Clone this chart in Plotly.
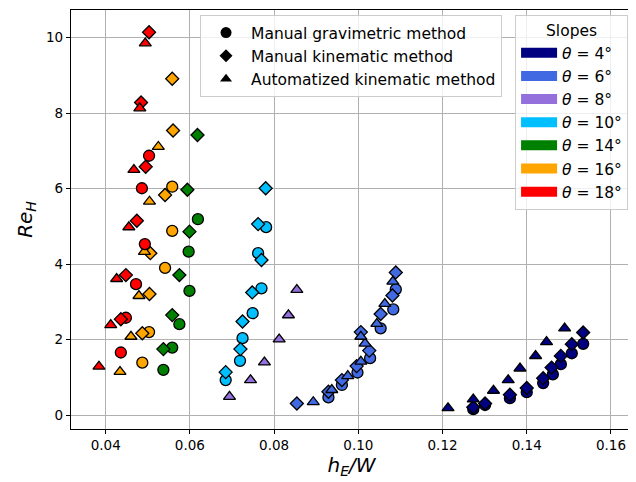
import plotly.graph_objects as go

# ---- data (h_E/W, Re_H) per slope and method ----
slopes = ["4", "6", "8", "10", "14", "16", "18"]
colors = ["#000080", "#4169E1", "#9370DB", "#00BFFF", "#008000", "#FFA500", "#FF0000"]

# Manual gravimetric method (circles)
grav_x = {
    "4": [0.1273, 0.1301, 0.1360, 0.1400, 0.1439, 0.1462, 0.1481, 0.1507, 0.1534],
    "6": [0.0929, 0.0961, 0.0998, 0.1028, 0.1053, 0.1083, 0.1089],
    "8": [],
    "10": [0.0685, 0.0719, 0.0725, 0.0749, 0.0770, 0.0762, 0.0781],
    "14": [0.0537, 0.0558, 0.0575, 0.0599, 0.0597, 0.0619],
    "16": [0.0487, 0.0503, 0.0541, 0.0558, 0.0558],
    "18": [0.0436, 0.0448, 0.0472, 0.0493, 0.0486, 0.0503],
}
grav_y = {
    "4": [0.16, 0.27, 0.45, 0.61, 0.85, 1.08, 1.35, 1.64, 1.89],
    "6": [0.47, 0.80, 1.13, 1.51, 2.30, 2.80, 3.33],
    "8": [],
    "10": [0.93, 1.44, 2.04, 2.70, 3.36, 4.29, 4.98],
    "14": [1.20, 1.79, 2.41, 3.29, 4.33, 5.19],
    "16": [1.39, 2.20, 3.90, 4.88, 6.05],
    "18": [1.66, 2.58, 3.47, 4.53, 6.01, 6.87],
}

# Manual kinematic method (diamonds)
kin_x = {
    "4": [0.1273, 0.1301, 0.1360, 0.1400, 0.1439, 0.1459, 0.1481, 0.1507, 0.1534],
    "6": [0.0854, 0.0929, 0.0961, 0.0996, 0.1026, 0.1006, 0.1053, 0.1081, 0.1089],
    "8": [],
    "10": [0.0685, 0.0720, 0.0725, 0.0748, 0.0770, 0.0762, 0.0780],
    "14": [0.0537, 0.0558, 0.0575, 0.0599, 0.0594, 0.0618],
    "16": [0.0487, 0.0504, 0.0506, 0.0541, 0.0560, 0.0558],
    "18": [0.0436, 0.0448, 0.0474, 0.0495, 0.0484, 0.0503],
}
kin_y = {
    "4": [0.21, 0.31, 0.54, 0.72, 0.98, 1.26, 1.57, 1.88, 2.19],
    "6": [0.31, 0.62, 0.93, 1.30, 1.71, 2.20, 2.68, 3.17, 3.78],
    "8": [],
    "10": [1.14, 1.75, 2.48, 3.25, 4.11, 5.06, 6.01],
    "14": [1.75, 2.65, 3.71, 4.86, 5.97, 7.42],
    "16": [2.17, 3.21, 4.29, 5.83, 7.54, 8.91],
    "18": [2.54, 3.71, 5.15, 6.58, 8.28, 10.14],
}

# Automatized kinematic method (triangles)
auto_x = {
    "4": [0.1213, 0.1273, 0.1321, 0.1356, 0.1384, 0.1421, 0.1447, 0.1490],
    "6": [0.0893, 0.0937, 0.0975, 0.1006, 0.1016, 0.1006, 0.1044, 0.1063, 0.1082],
    "8": [0.0694, 0.0744, 0.0777, 0.0812, 0.0834, 0.0854],
    "10": [],
    "14": [],
    "16": [0.0434, 0.0460, 0.0479, 0.0492, 0.0504, 0.0525],
    "18": [0.0384, 0.0412, 0.0426, 0.0455, 0.0467, 0.0481, 0.0494],
}
auto_y = {
    "4": [0.19, 0.42, 0.65, 0.93, 1.24, 1.57, 1.94, 2.30],
    "6": [0.35, 0.67, 1.04, 1.42, 1.90, 2.08, 2.42, 2.95, 3.54],
    "8": [0.49, 0.93, 1.40, 2.01, 2.65, 3.32],
    "10": [],
    "14": [],
    "16": [1.15, 2.08, 3.16, 4.33, 5.66, 7.11],
    "18": [1.29, 2.39, 3.61, 4.98, 6.50, 8.13, 9.85],
}

x_ticks = [0.04, 0.06, 0.08, 0.10, 0.12, 0.14, 0.16]
x_ticklabels = ["0.04", "0.06", "0.08", "0.10", "0.12", "0.14", "0.16"]
y_ticks = [0, 2, 4, 6, 8, 10]

method_names = ["Manual gravimetric method", "Manual kinematic method", "Automatized kinematic method"]
method_symbols = ["circle", "diamond", "triangle-up"]
method_sizes = [11, 10, 10.5]
method_data = [(grav_x, grav_y), (kin_x, kin_y), (auto_x, auto_y)]

FONT = "DejaVu Sans"
fig = go.Figure()

for s, c in zip(slopes, colors):
    for (mx, my), sym, sz in zip(method_data, method_symbols, method_sizes):
        if mx[s]:
            fig.add_trace(go.Scatter(
                x=mx[s], y=my[s], mode="markers", showlegend=False,
                marker=dict(symbol=sym, size=sz, color=c,
                            line=dict(color="black", width=1.3)),
            ))

# legend proxies: methods
for i, (name, sym, sz) in enumerate(zip(method_names, method_symbols, method_sizes)):
    fig.add_trace(go.Scatter(
        x=[None], y=[None], mode="markers", name=name, legend="legend",
        legendgroup="m%d" % i,
        marker=dict(symbol=sym, size=sz, color="black"),
    ))

# legend proxies: slopes
for i, (s, c) in enumerate(zip(slopes, colors)):
    fig.add_trace(go.Scatter(
        x=[None], y=[None], mode="lines", name="<i>θ</i> = %s°" % s, legend="legend2",
        legendgroup="s%d" % i,
        line=dict(color=c, width=13),
    ))

axis_common = dict(
    showline=True, linecolor="black", linewidth=1.2, mirror=True,
    ticks="outside", ticklen=4, tickcolor="black",
    showgrid=True, gridcolor="#b0b0b0", gridwidth=1,
    zeroline=False, tickfont=dict(family=FONT, size=13.5, color="black"),
)

# page body has an 8px margin; figure sized so the plot lands where the reference has it
fig.update_layout(
    width=628, height=474,
    margin=dict(l=63, r=4, t=2, b=53),
    paper_bgcolor="white", plot_bgcolor="white",
    font=dict(family=FONT, color="black"),
    xaxis=dict(range=[0.03176, 0.1650], tickvals=x_ticks, ticktext=x_ticklabels,
               title=dict(text="<i>h</i><sub><i>E</i></sub><i>/W</i>", font=dict(size=20), standoff=3),
               **axis_common),
    yaxis=dict(range=[-0.366, 10.73], tickvals=y_ticks,
               title=dict(text="<i>Re</i><sub><i>H</i></sub>", font=dict(size=20), standoff=8),
               **axis_common),
    legend=dict(x=0.230, y=0.988, xanchor="left", yanchor="top",
                bgcolor="rgba(255,255,255,0.8)", bordercolor="#cccccc", borderwidth=1,
                font=dict(family=FONT, size=15.5), tracegroupgap=0, traceorder="grouped",
                itemwidth=40),
    legend2=dict(x=0.993, y=0.988, xanchor="right", yanchor="top",
                 bgcolor="rgba(255,255,255,0.8)", bordercolor="#cccccc", borderwidth=1,
                 font=dict(family=FONT, size=15.5), tracegroupgap=0, traceorder="grouped",
                 itemwidth=36,
                 title=dict(text="Slopes", side="top center", font=dict(family=FONT, size=15.5))),
)

fig.write_html("out.html")
